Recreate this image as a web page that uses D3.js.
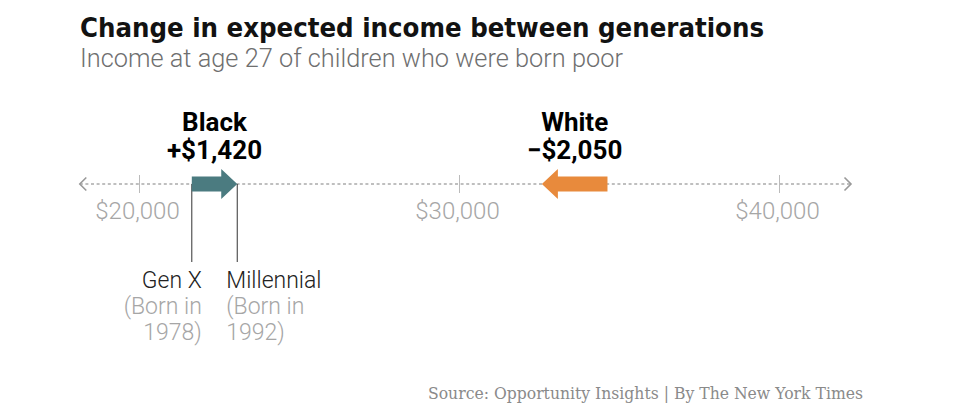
<!DOCTYPE html>
<html>
  <head>
    <meta charset="utf-8" />
    <title>Change in expected income between generations</title>
    <script src="https://d3js.org/d3.v7.min.js"></script>
    <style>
      body {
        margin: 0;
        background: #fff;
      }
    </style>
  </head>
  <body>
    <script>
      // values (income at age 27, dollars)
      const groups = ["Black", "White"];
      const genXIncome = [21650, 34640];
      const millennialIncome = [23070, 32590];
      const groupColors = ["#4b7b80", "#e88a3c"];
      const tickValues = [20000, 30000, 40000];
      const axisExtent = [18150, 42250];
      const cohortNames = ["Gen X", "Millennial"];
      const cohortYears = ["1978)", "1992)"];

      const width = 958;
      const height = 418;
      const axisY = 184;
      const sans = 'Roboto, "Liberation Sans", sans-serif';

      const svg = d3
        .select("body")
        .append("svg")
        .attr("width", width)
        .attr("height", height)
        .style("font-family", sans);

      const x = d3.scaleLinear().domain([20000, 40000]).range([139, 779]);

      // title + subtitle
      svg
        .append("text")
        .attr("x", 80)
        .attr("y", 37)
        .style("font-family", '"Liberation Sans Narrow", "DejaVu Sans Condensed", sans-serif')
        .attr("font-weight", "bold")
        .attr("font-size", 27)
        .attr("textLength", 684)
        .attr("lengthAdjust", "spacingAndGlyphs")
        .attr("fill", "#121212")
        .text("Change in expected income between generations");

      svg
        .append("text")
        .attr("x", 80)
        .attr("y", 67)
        .attr("font-weight", 300)
        .attr("font-size", 25)
        .attr("textLength", 543)
        .attr("lengthAdjust", "spacingAndGlyphs")
        .attr("fill", "#6f6f6f")
        .text("Income at age 27 of children who were born poor");

      // dotted axis line with chevrons at both ends
      svg
        .append("line")
        .attr("x1", x(axisExtent[0]))
        .attr("x2", x(axisExtent[1]))
        .attr("y1", axisY)
        .attr("y2", axisY)
        .attr("stroke", "#aaa")
        .attr("stroke-width", 1.3)
        .attr("stroke-dasharray", "3,2.6");

      const chev = 6.5;
      svg
        .append("path")
        .attr(
          "d",
          `M${x(axisExtent[0]) + chev},${axisY - chev}L${x(axisExtent[0])},${axisY}L${x(axisExtent[0]) + chev},${axisY + chev}` +
            `M${x(axisExtent[1]) - chev},${axisY - chev}L${x(axisExtent[1])},${axisY}L${x(axisExtent[1]) - chev},${axisY + chev}`
        )
        .attr("fill", "none")
        .attr("stroke", "#999")
        .attr("stroke-width", 1.6);

      // ticks + labels
      const axis = d3
        .axisBottom(x)
        .tickValues(tickValues)
        .tickSize(18)
        .tickFormat((d) => "$" + d3.format(",")(d));

      const axisG = svg
        .append("g")
        .attr("transform", `translate(0,${axisY - 9})`)
        .call(axis);
      axisG.select(".domain").remove();
      axisG.selectAll(".tick line").attr("stroke", "#bbb");
      axisG
        .selectAll(".tick text")
        .attr("x", -2)
        .attr("y", 44)
        .attr("dy", 0)
        .attr("font-size", 24)
        .attr("font-weight", 300)
        .style("font-family", sans)
        .attr("fill", "#a6a6a6");

      // black cohort guide lines (drawn under arrows)
      const cohortX = [x(genXIncome[0]), x(millennialIncome[0])];
      svg
        .selectAll(".guide")
        .data(cohortX)
        .join("line")
        .attr("class", "guide")
        .attr("x1", (d) => d)
        .attr("x2", (d) => d)
        .attr("y1", axisY)
        .attr("y2", 262)
        .attr("stroke", "#333")
        .attr("stroke-width", 1);

      // arrows from Gen X to Millennial
      const shaft = 7.5;
      const head = 15;
      const headLen = 16;
      function arrowPath(x0, x1) {
        const dir = x1 > x0 ? 1 : -1;
        const xb = x1 - dir * headLen;
        return [
          [x0, axisY - shaft],
          [xb, axisY - shaft],
          [xb, axisY - head],
          [x1, axisY],
          [xb, axisY + head],
          [xb, axisY + shaft],
          [x0, axisY + shaft],
        ]
          .map((p, i) => (i ? "L" : "M") + p[0] + "," + p[1])
          .join("") + "Z";
      }

      svg
        .selectAll(".arrow")
        .data(groups)
        .join("path")
        .attr("class", "arrow")
        .attr("d", (d, i) => arrowPath(x(genXIncome[i]), x(millennialIncome[i])))
        .attr("fill", (d, i) => groupColors[i]);

      // group labels above arrows
      const fmtChange = (v) => (v >= 0 ? "+$" : "\u2212$") + d3.format(",")(Math.abs(v));
      groups.forEach((g, i) => {
        const cx = (x(genXIncome[i]) + x(millennialIncome[i])) / 2;
        const lbl = svg
          .append("text")
          .attr("x", cx)
          .attr("text-anchor", "middle")
          .attr("font-weight", "bold")
          .attr("font-size", 26)
          .attr("fill", "#000");
        lbl.append("tspan").attr("x", cx).attr("y", 131).text(g);
        lbl
          .append("tspan")
          .attr("x", cx)
          .attr("y", 159)
          .text(fmtChange(millennialIncome[i] - genXIncome[i]));
      });

      // cohort labels under the guides
      cohortNames.forEach((name, i) => {
        const right = i === 0;
        const tx = right ? cohortX[0] + 10 : cohortX[1] - 11;
        const t = svg
          .append("text")
          .attr("text-anchor", right ? "end" : "start")
          .attr("font-size", 23)
          .attr("font-weight", 300);
        t.append("tspan").attr("x", tx).attr("y", 288).attr("fill", "#222").text(name);
        t.append("tspan").attr("x", tx).attr("y", 314).attr("fill", "#a6a6a6").text("(Born in");
        t.append("tspan").attr("x", tx).attr("y", 340).attr("fill", "#a6a6a6").text(cohortYears[i]);
      });

      // source line
      svg
        .append("text")
        .attr("x", 863)
        .attr("y", 399)
        .attr("text-anchor", "end")
        .style("font-family", '"DejaVu Serif", "Liberation Serif", serif')
        .attr("font-size", 16)
        .attr("textLength", 435)
        .attr("lengthAdjust", "spacingAndGlyphs")
        .attr("fill", "#8a8a8a")
        .text("Source: Opportunity Insights | By The New York Times");
    </script>
  </body>
</html>
